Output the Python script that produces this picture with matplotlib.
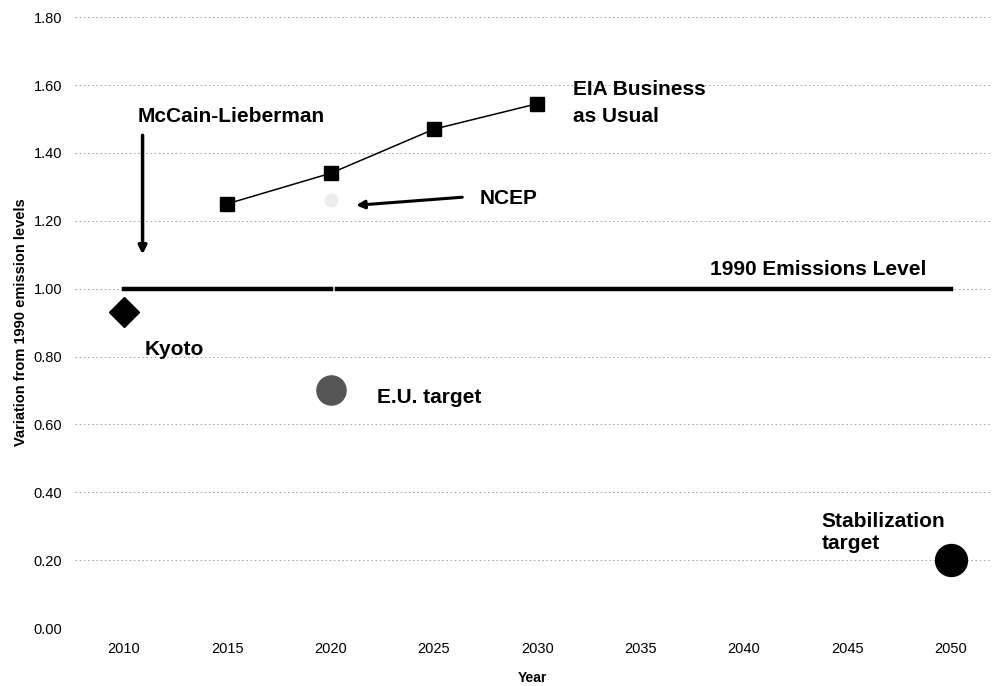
import matplotlib.pyplot as plt

plt.rcParams['font.family'] = ['Liberation Sans', 'DejaVu Sans']

# EIA business as usual
eia_years = [2015, 2020, 2025, 2030]
eia_values = [1.25, 1.34, 1.47, 1.545]

# single targets
kyoto_year, kyoto_value = 2010, 0.93
ncep_year, ncep_value = 2020, 1.26
eu_year, eu_value = 2020, 0.70
stab_year, stab_value = 2050, 0.20

# 1990 emissions level, drawn in two pieces
level_a_years = [2010, 2020]
level_b_years = [2020.3, 2050]
level_value = 1.0

x_ticks = [2010, 2015, 2020, 2025, 2030, 2035, 2040, 2045, 2050]
y_ticks = [0.0, 0.2, 0.4, 0.6, 0.8, 1.0, 1.2, 1.4, 1.6, 1.8]


def main():
    fig = plt.figure(figsize=(9.93, 6.86), dpi=100)
    ax = fig.add_axes([0.0755, 0.0845, 0.9215, 0.8905])

    ax.set_xlim(2007.63, 2051.9)
    ax.set_ylim(0, 1.8)
    for y in y_ticks:
        ax.axhline(y, color='#9a9a9a', lw=0.6, ls=(0, (2, 3)), zorder=0)

    ax.plot(level_a_years, [level_value] * 2, color='black', lw=3.2)
    ax.plot(level_b_years, [level_value] * 2, color='black', lw=3.2)

    ax.plot(eia_years, eia_values, color='black', lw=1.1, marker='s',
            markersize=10.5, markerfacecolor='black')
    ax.plot([kyoto_year], [kyoto_value], marker='D', color='black', markersize=15)
    ax.plot([ncep_year], [ncep_value], marker='o', color='#ececec', markersize=9)
    ax.plot([eu_year], [eu_value], marker='o', color='#555555', markersize=21)
    ax.plot([stab_year], [stab_value], marker='o', color='black', markersize=23)

    bold = dict(fontsize=15, fontweight='bold', va='baseline')
    ax.annotate('', xy=(2010.9, 1.093), xytext=(2010.9, 1.46),
                arrowprops=dict(arrowstyle='-|>', color='black', lw=2.5,
                                mutation_scale=12))
    ax.text(2010.68, 1.491, 'McCain-Lieberman', ha='left', **bold)
    ax.annotate('', xy=(2021.1, 1.245), xytext=(2026.5, 1.27),
                arrowprops=dict(arrowstyle='-|>', color='black', lw=2.2,
                                mutation_scale=12))
    ax.text(2027.22, 1.249, 'NCEP', ha='left', **bold)
    ax.text(2031.72, 1.570, 'EIA Business', ha='left', **bold)
    ax.text(2031.72, 1.491, 'as Usual', ha='left', **bold)
    ax.text(2048.84, 1.040, '1990 Emissions Level', ha='right', **bold)
    ax.text(2011.02, 0.804, 'Kyoto', ha='left', **bold)
    ax.text(2022.24, 0.663, 'E.U. target', ha='left', **bold)
    ax.text(2043.76, 0.298, 'Stabilization', ha='left', **bold)
    ax.text(2043.76, 0.232, 'target', ha='left', **bold)

    narrow = ['Liberation Sans Narrow', 'Liberation Sans', 'DejaVu Sans']
    ax.set_xticks(x_ticks)
    ax.set_xticklabels([str(x) for x in x_ticks], family=narrow)
    ax.set_yticks(y_ticks)
    ax.set_yticklabels(['%.2f' % y for y in y_ticks], family=narrow)
    ax.tick_params(axis='x', length=0, labelsize=10.5, pad=10)
    ax.tick_params(axis='y', length=0, labelsize=10.5, pad=9)
    for s in ax.spines.values():
        s.set_visible(False)

    ax.set_xlabel('Year', fontsize=10, fontweight='bold', labelpad=11)
    ax.set_ylabel('Variation from 1990 emission levels', fontsize=10.5,
                  fontweight='bold', labelpad=4)

    fig.savefig('out.png', dpi=100)


if __name__ == "__main__":
    main()
